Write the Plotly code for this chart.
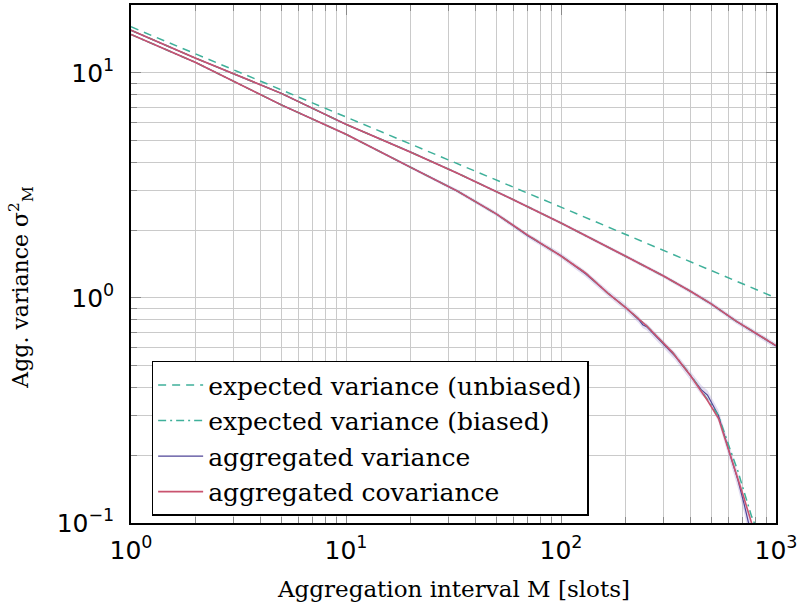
import plotly.graph_objects as go

# ---------------- data ----------------
M_unb = [1, 10, 100, 1000]
unbiased = [16.0, 6.37, 2.53, 1.0]

M_up = [1, 2, 5, 10, 20, 33, 60, 100, 200, 300, 400, 500, 650, 800, 1000]
cov_up = [15.45, 11.6, 8.1, 5.9, 4.44, 3.58, 2.73, 2.15, 1.53, 1.25, 1.07, 0.94, 0.79, 0.70, 0.614]
var_up = [15.45, 11.6, 8.1, 5.9, 4.44, 3.58, 2.73, 2.15, 1.53, 1.25, 1.07, 0.94, 0.79, 0.70, 0.612]
biased_up = [15.45, 11.6, 8.1, 5.9, 4.44, 3.58, 2.73, 2.15, 1.53, 1.25, 1.07, 0.94, 0.79, 0.70, 0.614]
band_up = [0.01, 0.01, 0.01, 0.01, 0.012, 0.012, 0.014, 0.015, 0.018, 0.02, 0.022, 0.024, 0.026, 0.028, 0.03]

M_lo = [1, 2, 5, 10, 20, 33, 50, 70, 100, 130, 165, 200, 250, 330, 400, 480, 540, 610, 665, 710, 770, 800]
cov_lo = [14.8, 11.1, 7.2, 5.33, 3.8, 2.98, 2.36, 1.90, 1.535, 1.29, 1.05, 0.905, 0.752, 0.573,
          0.452, 0.35, 0.292, 0.204, 0.160, 0.129, 0.100, 0.085]

M_bl = [1, 2, 5, 10, 20, 33, 50, 70, 100, 130, 165, 200, 250, 330, 400, 480, 540, 610, 665, 710, 770, 800, 830]
biased_lo = [14.8, 11.1, 7.2, 5.33, 3.8, 2.98, 2.36, 1.90, 1.535, 1.29, 1.05, 0.905, 0.752, 0.573,
             0.455, 0.355, 0.300, 0.214, 0.170, 0.138, 0.107, 0.098, 0.088]

M_vl = [1, 2, 5, 10, 20, 33, 50, 70, 100, 130, 165, 200, 230, 240, 250, 300, 330, 340, 400, 450,
        480, 540, 610, 665, 710, 743, 780]
var_lo = [14.8, 11.1, 7.2, 5.33, 3.8, 2.98, 2.36, 1.89, 1.54, 1.28, 1.05, 0.905, 0.80, 0.76, 0.745,
          0.625, 0.57, 0.55, 0.452, 0.39, 0.37, 0.30, 0.203, 0.155, 0.122, 0.1, 0.083]
band_lo = [0.01, 0.01, 0.01, 0.012, 0.015, 0.02, 0.022, 0.025, 0.028, 0.03, 0.032, 0.035, 0.035, 0.035,
           0.035, 0.04, 0.04, 0.04, 0.045, 0.05, 0.05, 0.06, 0.07, 0.08, 0.09, 0.1, 0.11]

x_ticks = [1, 10, 100, 1000]
x_ticktext = ["10<sup>0</sup>", "10<sup>1</sup>", "10<sup>2</sup>", "10<sup>3</sup>"]
y_ticks = [0.1, 1, 10]
y_ticktext = ["10<sup>\u22121</sup>", "10<sup>0</sup>", "10<sup>1</sup>"]

# ---------------- styles ----------------
TEAL = "#3fb09a"
RED = "#c9536f"
BLUE = "#4f4597"
BAND = "rgba(175,160,215,0.35)"
GRID = "#cacaca"
TICKC = "#8a8a8a"
SERIF = "DejaVu Serif"

minor_x = [m * 10 ** e for e in range(0, 3) for m in range(2, 10)]
minor_y = [m * 10 ** e for e in range(-1, 2) for m in range(2, 10)]

fig = go.Figure()


def add_band(M, v, rel):
    hi = [a * (1 + r) for a, r in zip(v, rel)]
    lo = [a * (1 - r) for a, r in zip(v, rel)]
    fig.add_trace(go.Scatter(x=M, y=hi, mode="lines", line=dict(width=0), showlegend=False,
                             hoverinfo="skip"))
    fig.add_trace(go.Scatter(x=M, y=lo, mode="lines", line=dict(width=0), fill="tonexty",
                             fillcolor=BAND, showlegend=False, hoverinfo="skip"))


add_band(M_up, var_up, band_up)
add_band(M_vl, var_lo, band_lo)

fig.add_trace(go.Scatter(x=M_vl, y=var_lo, mode="lines", line=dict(color=BLUE, width=1.2),
                         name="aggregated variance", legendrank=3))
fig.add_trace(go.Scatter(x=M_up, y=var_up, mode="lines", line=dict(color=BLUE, width=1.2),
                         showlegend=False))
fig.add_trace(go.Scatter(x=M_bl, y=biased_lo, mode="lines",
                         line=dict(color=TEAL, width=1.5, dash="8px,4px,2px,4px"),
                         name="expected variance (biased)", legendrank=2))
fig.add_trace(go.Scatter(x=M_up, y=biased_up, mode="lines",
                         line=dict(color=TEAL, width=1.5, dash="8px,4px,2px,4px"),
                         showlegend=False))
fig.add_trace(go.Scatter(x=M_lo, y=cov_lo, mode="lines", line=dict(color=RED, width=1.6),
                         name="aggregated covariance", legendrank=4))
fig.add_trace(go.Scatter(x=M_up, y=cov_up, mode="lines", line=dict(color=RED, width=1.6),
                         showlegend=False))
fig.add_trace(go.Scatter(x=M_unb, y=unbiased, mode="lines",
                         line=dict(color=TEAL, width=1.5, dash="8px,6px"),
                         name="expected variance (unbiased)", legendrank=1))

axis_common = dict(
    type="log", tickmode="array", ticks="inside", ticklen=10, tickcolor=TICKC, tickwidth=1,
    showgrid=True, gridcolor=GRID, gridwidth=1, showline=True, linecolor="black", linewidth=1.5,
    mirror="allticks", zeroline=False, ticklabeloverflow="allow",
    tickfont=dict(family="DejaVu Sans", size=25, color="black"),
)

fig.update_layout(
    width=800, height=615,
    margin=dict(l=131, r=18, t=3, b=92),
    paper_bgcolor="white", plot_bgcolor="white",
    showlegend=True,
    legend=dict(x=0.032, y=0.313, xanchor="left", yanchor="top", bgcolor="white",
                bordercolor="black", borderwidth=1.5, tracegroupgap=0, traceorder="normal",
                itemwidth=45,
                font=dict(family=SERIF, size=25, color="black")),
    xaxis=dict(axis_common, range=[0, 3], tickvals=x_ticks, ticktext=x_ticktext,
               ticklabelstandoff=4,
               minor=dict(tickvals=minor_x, ticks="inside", ticklen=6, tickcolor=TICKC,
                          showgrid=True, gridcolor=GRID, gridwidth=1)),
    yaxis=dict(axis_common, range=[-1, 1.301], tickvals=y_ticks, ticktext=y_ticktext,
               ticklabelstandoff=10,
               minor=dict(tickvals=minor_y, ticks="inside", ticklen=6, tickcolor=TICKC,
                          showgrid=True, gridcolor=GRID, gridwidth=1)),
    annotations=[
        dict(text="Aggregation interval M [slots]", xref="paper", yref="paper", x=0.5, y=-0.128,
             xanchor="center", yanchor="middle", showarrow=False,
             font=dict(family=SERIF, size=23, color="black")),
        dict(text="Agg. variance \u03c3<sup>2</sup><sub>M</sub>", xref="paper", yref="paper",
             x=-0.17, y=0.455, xanchor="center", yanchor="middle", textangle=-90, showarrow=False,
             font=dict(family=SERIF, size=22, color="black")),
    ],
)

fig.write_html("out.html", config={"displayModeBar": False},
               post_script="document.body.style.margin='0px';")
